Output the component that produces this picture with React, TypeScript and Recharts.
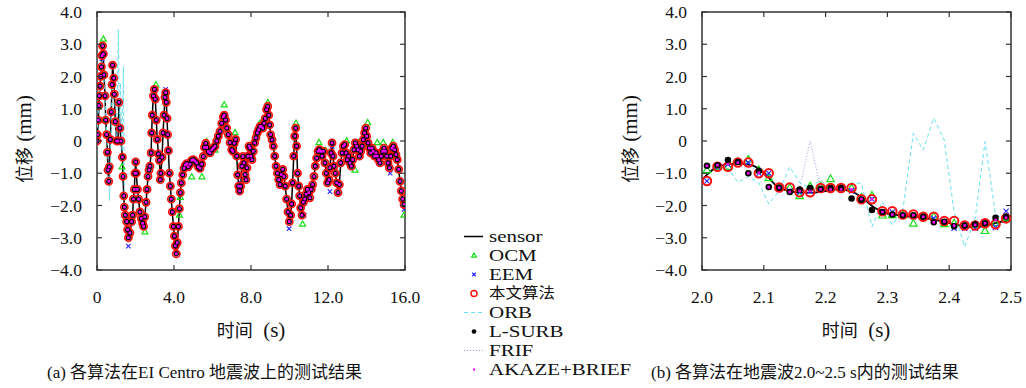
import React from 'react';
import { ComposedChart, Line, Scatter, XAxis, YAxis, ReferenceArea } from 'recharts';

// ---- (a) whole record, 0-16 s ----
const leftTime = [
  0, 0.02, 0.07, 0.1, 0.12, 0.16, 0.19, 0.23, 0.26, 0.29, 0.33, 0.36, 0.42, 0.45, 0.5, 0.54, 0.57, 0.61,
  0.64, 0.69, 0.74, 0.78, 0.81, 0.87, 0.9, 0.95, 1.02, 1.09, 1.14, 1.19, 1.25, 1.32, 1.35, 1.39, 1.42,
  1.47, 1.54, 1.59, 1.63, 1.71, 1.8, 1.85, 1.89, 1.94, 1.97, 2.01, 2.04, 2.1, 2.16, 2.23, 2.3, 2.37,
  2.42, 2.48, 2.55, 2.6, 2.65, 2.7, 2.75, 2.81, 2.84, 2.87, 2.93, 2.98, 3.03, 3.08, 3.13, 3.19, 3.24,
  3.29, 3.32, 3.38, 3.43, 3.48, 3.53, 3.57, 3.6, 3.64, 3.67, 3.71, 3.76, 3.81, 3.86, 3.91, 3.97, 4.02,
  4.07, 4.12, 4.17, 4.23, 4.28, 4.33, 4.38, 4.45, 4.52, 4.59, 4.66, 4.74, 4.83, 4.92, 5.0, 5.09, 5.18,
  5.26, 5.35, 5.44, 5.52, 5.58, 5.65, 5.7, 5.78, 5.87, 5.96, 6.04, 6.13, 6.22, 6.3, 6.39, 6.48, 6.56,
  6.61, 6.68, 6.74, 6.82, 6.91, 7.0, 7.06, 7.13, 7.2, 7.26, 7.31, 7.36, 7.41, 7.46, 7.53, 7.58, 7.64,
  7.69, 7.74, 7.79, 7.84, 7.9, 7.95, 8.0, 8.05, 8.12, 8.19, 8.26, 8.33, 8.4, 8.47, 8.54, 8.61, 8.68,
  8.74, 8.81, 8.87, 8.92, 8.97, 9.02, 9.09, 9.16, 9.23, 9.3, 9.37, 9.44, 9.51, 9.58, 9.65, 9.71, 9.78,
  9.85, 9.92, 9.99, 10.06, 10.11, 10.16, 10.22, 10.27, 10.32, 10.37, 10.42, 10.48, 10.53, 10.58, 10.65,
  10.72, 10.79, 10.86, 10.93, 11.0, 11.06, 11.13, 11.2, 11.27, 11.34, 11.41, 11.48, 11.55, 11.62, 11.69,
  11.76, 11.84, 11.91, 11.98, 12.05, 12.1, 12.16, 12.21, 12.26, 12.31, 12.38, 12.45, 12.52, 12.59,
  12.66, 12.73, 12.8, 12.87, 12.94, 13.0, 13.07, 13.14, 13.21, 13.28, 13.35, 13.42, 13.49, 13.56, 13.63,
  13.7, 13.77, 13.84, 13.9, 13.96, 14.01, 14.08, 14.15, 14.22, 14.29, 14.35, 14.42, 14.49, 14.56, 14.63,
  14.7, 14.77, 14.84, 14.91, 14.98, 15.05, 15.12, 15.19, 15.26, 15.32, 15.39, 15.46, 15.53, 15.6, 15.67,
  15.74, 15.81, 15.88, 15.95,
];
const leftSensor = [
  0, 0.2, 0.65, 1.1, 1.4, 1.7, 2.0, 2.3, 2.65, 2.95, 2.7, 2.05, 1.4, 0.65, 0.2, -0.35, -0.9, -1.25,
  -0.8, 0.05, 0.9, 1.75, 2.35, 1.95, 1.45, 0.6, 0.0, 0.0, 1.2, 0.4, 0.0, -0.5, -1.1, -1.7, -2.05,
  -2.3, -2.5, -2.75, -3.0, -2.85, -2.5, -2.3, -1.8, -1.5, -1.0, -0.65, -1.0, -1.5, -1.8, -2.2, -2.4, -2.55,
  -2.65, -2.35, -1.9, -1.5, -1.1, -0.9, -0.78, -0.37, 0.25, 0.8, 1.4, 1.6, 1.3, 0.65, 0.05, -0.4, -0.6,
  -1.2, -1.0, -0.5, 0.25, 0.8, 1.35, 1.5, 1.2, 0.7, 0.2, -0.3, -1.0, -1.4, -1.8, -2.2, -2.65, -2.95,
  -3.25, -3.5, -3.15, -2.65, -2.1, -1.6, -1.3, -1.05, -0.85, -0.75, -0.7, -0.8, -0.72, -0.6, -0.58, -0.62, -0.68,
  -0.8, -0.85, -0.72, -0.48, -0.2, -0.07, -0.2, -0.32, -0.37, -0.27, -0.22, -0.16, 0.0, 0.15, 0.3, 0.55, 0.75,
  0.8, 0.65, 0.4, 0.2, -0.05, -0.27, -0.32, -0.07, 0.05, -0.47, -1.05, -1.4, -1.55, -1.4, -0.78, -0.48, -0.68,
  -1.04, -1.2, -0.83, -0.47, -0.16, -0.22, -0.47, -0.58, -0.32, -0.06, 0.1, 0.25, 0.35, 0.45, 0.45, 0.4, 0.55,
  0.7, 0.97, 1.07, 0.8, 0.5, 0.2, 0.04, -0.16, -0.47, -0.78, -1.0, -1.2, -1.35, -1.04, -0.88, -1.1, -1.4,
  -1.8, -2.2, -2.5, -2.3, -1.95, -1.3, -0.47, 0.15, 0.4, -0.16, -1.0, -1.4, -1.7, -2.07, -2.3,
  -1.9, -1.8, -1.65, -1.5, -1.6, -1.76, -1.5, -1.35, -1.1, -0.78, -0.53, -0.32, -0.27, -0.32, -0.47,
  -0.32, -0.68, -1.0, -1.3, -1.2, -0.83, -0.37, -0.06, -0.47, -0.78, -1.0, -1.3, -1.6, -1.35,
  -0.68, -0.37, -0.16, -0.11, -0.37, -0.58, -0.47, -0.68, -0.78, -0.58, -0.27, -0.06, -0.16, -0.27, -0.47,
  -0.32, -0.16, 0.04, 0.25, 0.4, 0.15, -0.06, -0.22, -0.37, -0.22, -0.32, -0.47, -0.37, -0.47, -0.58,
  -0.68, -0.47, -0.32, -0.22, -0.32, -0.47, -0.68, -0.83, -0.47, -0.22, -0.16, -0.27, -0.42, -0.58, -0.88,
  -1.25, -1.55, -1.8, -1.97,
];
// OCM / EEM points that stand out of the marker cloud
const leftOcmTime = [0.33, 0.42, 1.3, 2.49, 3.06, 4.28, 4.33, 4.92, 5.45, 5.7, 6.13, 6.61, 7.17, 8.47, 8.87, 9.51, 10.34, 10.68, 11.53, 11.88, 12.97, 13.4, 13.57, 14.06, 14.56, 14.87, 15.36, 15.95];
const leftOcmValue = [3.16, 0.65, -0.8, -2.82, 1.74, -2.3, -1.75, -1.11, -1.11, -0.02, -0.28, 1.12, 0.26, 0.55, 1.19, -1.15, 0.55, -2.58, -0.05, -0.3, 0.0, -0.9, -0.05, 0.57, -0.05, -0.05, -0.05, -2.3];
const leftEemTime = [0.26, 1.63, 3.57, 7.4, 7.48, 9.98, 10.76, 12.1, 12.22, 15.23, 15.95];
const leftEemValue = [2.55, -3.26, 1.6, -1.6, -1.31, -2.72, -2.3, -1.57, -0.17, -1.0, -2.12];
const leftOrbTime = [0, 0.1, 0.2, 0.3, 0.4, 0.5, 0.6, 0.65, 0.7, 0.8, 0.9, 1.0, 1.05, 1.11, 1.17, 1.22, 1.3, 1.37, 1.42, 1.5];
const leftOrbValue = [0.2, 1.3, 2.2, 2.7, 1.5, 0.3, -0.9, -1.85, -0.4, 2.0, 1.0, 0.1, 1.2, 3.45, 0.3, 1.8, -0.3, 2.3, -1.7, -2.4];

// ---- (b) 2.0-2.5 s ----
const rightSensorTime = [2.0, 2.02, 2.04, 2.06, 2.08, 2.1, 2.12, 2.14, 2.16, 2.18, 2.2, 2.22, 2.24, 2.26, 2.28, 2.3, 2.32, 2.34, 2.36, 2.38, 2.4, 2.42, 2.44, 2.46, 2.48, 2.5];
const rightSensor = [-1.2, -0.85, -0.72, -0.7, -0.75, -0.97, -1.38, -1.55, -1.6, -1.6, -1.55, -1.5, -1.55, -1.78, -2.08, -2.25, -2.3, -2.35, -2.38, -2.45, -2.55, -2.63, -2.67, -2.62, -2.52, -2.45];
const rightTime = [
  2.008, 2.025, 2.042, 2.058, 2.075, 2.092, 2.108, 2.125, 2.142, 2.158, 2.175, 2.192, 2.208, 2.225, 2.242,
  2.258, 2.275, 2.292, 2.308, 2.325, 2.342, 2.358, 2.375, 2.392, 2.408, 2.425, 2.442, 2.458, 2.475, 2.492,
];
const rightOcm = [-0.9, -0.8, -0.8, -0.65, -0.57, -0.9, -1.15, -1.45, -1.45, -1.71, -1.4, -1.4, -1.18, -1.46, -1.46, -1.75, -1.69, -2.31, -2.3, -2.3, -2.56, -2.35, -2.35, -2.58, -2.55, -2.62, -2.6, -2.79, -2.55, -2.4];
const rightEem = [-1.24, -0.8, -0.73, -0.67, -0.67, -1.0, -1.0, -1.5, -1.55, -1.58, -1.55, -1.5, -1.5, -1.5, -1.55, -1.8, -1.8, -2.2, -2.2, -2.3, -2.35, -2.35, -2.4, -2.5, -2.7, -2.7, -2.7, -2.55, -2.68, -2.18];
const rightOurs = [-1.24, -0.8, -0.8, -0.67, -0.67, -1.0, -1.0, -1.44, -1.44, -1.59, -1.59, -1.46, -1.46, -1.46, -1.46, -1.81, -1.81, -2.18, -2.18, -2.28, -2.28, -2.35, -2.35, -2.48, -2.48, -2.62, -2.62, -2.55, -2.58, -2.4];
const rightOrb = [-1.0, -0.8, -0.85, -1.28, -1.1, -1.3, -1.95, -1.55, -0.8, -1.3, -1.45, -1.2, -1.5, -1.55, -1.3, -1.31, -2.66, -1.88, -2.61, -2.14, 0.24, -0.28, 0.71, 0.03, -2.2, -3.28, -2.4, -0.02, -2.3, -2.4];
const rightLsurb = [-0.77, -0.75, -0.59, -0.65, -1.0, -0.92, -1.43, -1.45, -1.58, -1.5, -1.46, -1.48, -1.46, -1.46, -1.78, -1.82, -2.14, -2.2, -2.28, -2.3, -2.3, -2.35, -2.52, -2.5, -2.64, -2.62, -2.58, -2.55, -2.38, -2.35];
const rightFrif = [-0.8, -0.75, -0.7, -0.68, -0.7, -1.0, -1.05, -1.45, -1.5, -1.45, 0.0, -1.45, -1.5, -1.5, -1.5, -1.75, -1.85, -2.2, -2.2, -2.28, -2.3, -2.35, -2.38, -2.45, -2.55, -2.62, -2.62, -2.58, -2.5, -2.4];
const rightAkaze = [-0.77, -0.75, -0.72, -0.67, -1.0, -0.98, -1.43, -1.45, -1.58, -1.55, -1.55, -1.5, -1.5, -1.5, -1.5, -1.8, -1.8, -2.2, -2.28, -2.3, -2.3, -2.35, -2.52, -2.5, -2.62, -2.62, -2.6, -2.55, -2.45, -2.38];

const yTicks = [-4, -3, -2, -1, 0, 1, 2, 3, 4];
const leftXTicks = [0, 4, 8, 12, 16];
const rightXTicks = [2.0, 2.1, 2.2, 2.3, 2.4, 2.5];
const legendNames = ['sensor', 'OCM', 'EEM', '本文算法', 'ORB', 'L-SURB', 'FRIF', 'AKAZE+BRIEF'];

const zip = (ts: number[], vs: number[]) => ts.map((t, i) => ({ t, v: vs[i] }));

const LATIN = '"Liberation Serif", serif';
const SERIF = '"Liberation Serif", "Noto Sans CJK SC", serif';
const AX = '#333';
const C = {
  green: '#18e018',
  blue: '#2a2aff',
  red: '#ff1010',
  cyan: '#66e0f0',
  lav: '#9a9ae8',
  mag: '#ff00ff',
};

const PLOT_TOP = 12;
const PLOT_BOTTOM = 270;

const fmtY = (v: number) => (v === 0 ? '0' : v.toFixed(1).replace('-', '\u2212'));
const fmtX = (v: number) => (v === 0 ? '0' : v.toFixed(1));

const makeXTick = () => (props: any) => {
  const { x, payload } = props;
  return (
    <g>
      <line x1={x} x2={x} y1={PLOT_BOTTOM} y2={PLOT_BOTTOM - 5} stroke={AX} strokeWidth={1.2} />
      <line x1={x} x2={x} y1={PLOT_TOP} y2={PLOT_TOP + 5} stroke={AX} strokeWidth={1.2} />
      <text x={x} y={PLOT_BOTTOM + 33} textAnchor="middle" fontSize={17.5} fontFamily={LATIN} fill="#111">
        {fmtX(payload.value)}
      </text>
    </g>
  );
};

const makeYTick = (left: number, right: number) => (props: any) => {
  const { y, payload } = props;
  return (
    <g>
      <line x1={left} x2={left + 5} y1={y} y2={y} stroke={AX} strokeWidth={1.2} />
      <line x1={right} x2={right - 5} y1={y} y2={y} stroke={AX} strokeWidth={1.2} />
      <text x={left - 15} y={y + 6} textAnchor="end" fontSize={17.5} fontFamily={LATIN} fill="#111">
        {fmtY(payload.value)}
      </text>
    </g>
  );
};

// marker shapes, s = scale
const triShape = (s: number) => (p: any) => (
  <path
    d={`M${p.cx},${p.cy - 3.2 * s}L${p.cx + 3 * s},${p.cy + 2 * s}L${p.cx - 3 * s},${p.cy + 2 * s}Z`}
    fill="none"
    stroke={C.green}
    strokeWidth={1.2}
  />
);
const crossShape = (s: number) => (p: any) => (
  <g stroke={C.blue} strokeWidth={1.2}>
    <line x1={p.cx - 2.2 * s} y1={p.cy - 2.2 * s} x2={p.cx + 2.2 * s} y2={p.cy + 2.2 * s} />
    <line x1={p.cx - 2.2 * s} y1={p.cy + 2.2 * s} x2={p.cx + 2.2 * s} y2={p.cy - 2.2 * s} />
  </g>
);
const ringShape = (s: number) => (p: any) => (
  <circle cx={p.cx} cy={p.cy} r={3.4 * s} fill="none" stroke={C.red} strokeWidth={1.6 * s} />
);
const dotShape = (s: number) => (p: any) => <circle cx={p.cx} cy={p.cy} r={2.6 * s} fill="#000" />;
const magShape = (s: number) => (p: any) => (
  <rect x={p.cx - 1.3 * s} y={p.cy - 1.3 * s} width={2.6 * s} height={2.6 * s} fill={C.mag} />
);

const LeftPanel = () => {
  const sensor = zip(leftTime, leftSensor);
  return (
    <ComposedChart width={420} height={340} margin={{ top: PLOT_TOP, right: 15, bottom: 20, left: 0 }}>
      <XAxis type="number" dataKey="t" domain={[0, 16]} ticks={leftXTicks} height={50} axisLine={false} tickLine={false} tick={makeXTick()} allowDataOverflow />
      <YAxis type="number" dataKey="v" domain={[-4, 4]} ticks={yTicks} width={97} axisLine={false} tickLine={false} tick={makeYTick(97, 405)} allowDataOverflow />
      <ReferenceArea x1={0} x2={16} y1={-4} y2={4} fill="none" stroke={AX} strokeWidth={1.5} />
      <Line data={sensor} dataKey="v" type="linear" stroke="#000" strokeWidth={1.5} dot={false} isAnimationActive={false} />
      <Scatter data={zip(leftOcmTime, leftOcmValue)} shape={triShape(1)} isAnimationActive={false} />
      <Scatter data={zip(leftEemTime, leftEemValue)} shape={crossShape(1)} isAnimationActive={false} />
      <Line data={zip(leftOrbTime, leftOrbValue)} dataKey="v" stroke={C.cyan} strokeWidth={1} strokeDasharray="4 3" dot={false} isAnimationActive={false} />
      <Scatter data={sensor} shape={ringShape(1.05)} isAnimationActive={false} />
      <Scatter data={sensor} shape={dotShape(1)} isAnimationActive={false} />
      <Scatter data={sensor} shape={magShape(1)} isAnimationActive={false} />
    </ComposedChart>
  );
};

const RightPanel = () => (
  <ComposedChart width={426} height={340} margin={{ top: PLOT_TOP, right: 15, bottom: 20, left: 0 }}>
    <XAxis type="number" dataKey="t" domain={[2.0, 2.5]} ticks={rightXTicks} height={50} axisLine={false} tickLine={false} tick={makeXTick()} allowDataOverflow />
    <YAxis type="number" dataKey="v" domain={[-4, 4]} ticks={yTicks} width={102} axisLine={false} tickLine={false} tick={makeYTick(102, 411)} allowDataOverflow />
    <ReferenceArea x1={2.0} x2={2.5} y1={-4} y2={4} fill="none" stroke={AX} strokeWidth={1.5} />
    <Line data={zip(rightSensorTime, rightSensor)} dataKey="v" type="monotone" stroke="#000" strokeWidth={1.8} dot={false} isAnimationActive={false} />
    <Scatter data={zip(rightTime, rightOcm)} shape={triShape(1.25)} isAnimationActive={false} />
    <Scatter data={zip(rightTime, rightEem)} shape={crossShape(1.2)} isAnimationActive={false} />
    <Scatter data={zip(rightTime, rightOurs)} shape={ringShape(1.25)} isAnimationActive={false} />
    <Line data={zip(rightTime, rightOrb)} dataKey="v" stroke={C.cyan} strokeWidth={1} strokeDasharray="4 3" dot={false} isAnimationActive={false} />
    <Scatter data={zip(rightTime, rightLsurb)} shape={dotShape(1.25)} isAnimationActive={false} />
    <Line data={zip(rightTime, rightFrif)} dataKey="v" stroke={C.lav} strokeWidth={1} strokeDasharray="1 2" dot={false} isAnimationActive={false} />
    <Scatter data={zip(rightTime, rightAkaze)} shape={magShape(1)} isAnimationActive={false} />
  </ComposedChart>
);

const LegendSymbol = ({ idx }: { idx: number }) => {
  const p = { cx: 10, cy: 9.5 };
  let el: React.ReactNode = null;
  if (idx === 0) el = <line x1={0} x2={19} y1={p.cy} y2={p.cy} stroke="#000" strokeWidth={1.5} />;
  if (idx === 1) el = triShape(0.8)(p);
  if (idx === 2) el = crossShape(0.8)(p);
  if (idx === 3) el = ringShape(0.9)(p);
  if (idx === 4) el = <line x1={0} x2={19} y1={p.cy} y2={p.cy} stroke={C.cyan} strokeWidth={1} strokeDasharray="4 3" />;
  if (idx === 5) el = dotShape(0.9)(p);
  if (idx === 6) el = <line x1={0} x2={19} y1={p.cy} y2={p.cy} stroke={C.lav} strokeWidth={1} strokeDasharray="1 2" />;
  if (idx === 7) el = magShape(0.8)(p);
  return (
    <svg width={20} height={19} style={{ display: 'block' }}>
      {el}
    </svg>
  );
};

const textStyle: React.CSSProperties = { fontFamily: SERIF, fontSize: 17, color: '#111', whiteSpace: 'nowrap', position: 'absolute', lineHeight: '20px' };

// Chinese part and Latin part of an axis title have different widths in the source
const AxisTitle = ({ cjk, latin }: { cjk: string; latin: string }) => (
  <>
    <span style={{ fontFamily: '"Noto Sans CJK SC", sans-serif', fontSize: 18 }}>{cjk}</span>
    <span style={{ fontFamily: LATIN, fontSize: 21 }}>{latin}</span>
  </>
);

const isCjk = (s: string) => /[\u4e00-\u9fff]/.test(s);

export default function App() {
  return (
    <div style={{ position: 'absolute', left: 0, top: 0, width: 1026, height: 388, overflow: 'hidden', background: '#fff' }}>
      <div style={{ position: 'absolute', left: 0, top: 0 }}>
        <LeftPanel />
      </div>
      <div style={{ position: 'absolute', left: 600, top: 0 }}>
        <RightPanel />
      </div>

      {/* axis titles */}
      <div style={{ ...textStyle, left: 24, top: 139, transform: 'translate(-50%, -50%) rotate(-90deg)' }}>
        <AxisTitle cjk="位移" latin={'\u00a0(mm)'} />
      </div>
      <div style={{ ...textStyle, left: 630, top: 139, transform: 'translate(-50%, -50%) rotate(-90deg)' }}>
        <AxisTitle cjk="位移" latin={'\u00a0(mm)'} />
      </div>
      <div style={{ ...textStyle, left: 251, top: 330, transform: 'translate(-50%, -50%)' }}>
        <AxisTitle cjk="时间" latin={'\u00a0\u00a0(s)'} />
      </div>
      <div style={{ ...textStyle, left: 856, top: 330, transform: 'translate(-50%, -50%)' }}>
        <AxisTitle cjk="时间" latin={'\u00a0\u00a0(s)'} />
      </div>

      {/* legend: rows are 19px apart, so the Latin names are kept small and stretched sideways */}
      <div style={{ position: 'absolute', left: 464, top: 227 }}>
        {legendNames.map((name, i) => (
          <div key={name} style={{ display: 'flex', alignItems: 'center', height: 19 }}>
            <LegendSymbol idx={i} />
            <span
              style={{
                display: 'inline-block',
                fontFamily: SERIF,
                fontSize: isCjk(name) ? 15 : 16.5,
                lineHeight: '19px',
                marginLeft: 5,
                color: '#111',
                whiteSpace: 'nowrap',
                transform: isCjk(name) ? 'scaleX(1.1)' : 'scaleX(1.27)',
                transformOrigin: 'left center',
              }}
            >
              {name}
            </span>
          </div>
        ))}
      </div>

      {/* captions */}
      <div style={{ ...textStyle, left: 47, top: 363 }}>(a) 各算法在EI Centro 地震波上的测试结果</div>
      <div style={{ ...textStyle, left: 651, top: 363 }}>(b) 各算法在地震波2.0~2.5 s内的测试结果</div>
    </div>
  );
}
